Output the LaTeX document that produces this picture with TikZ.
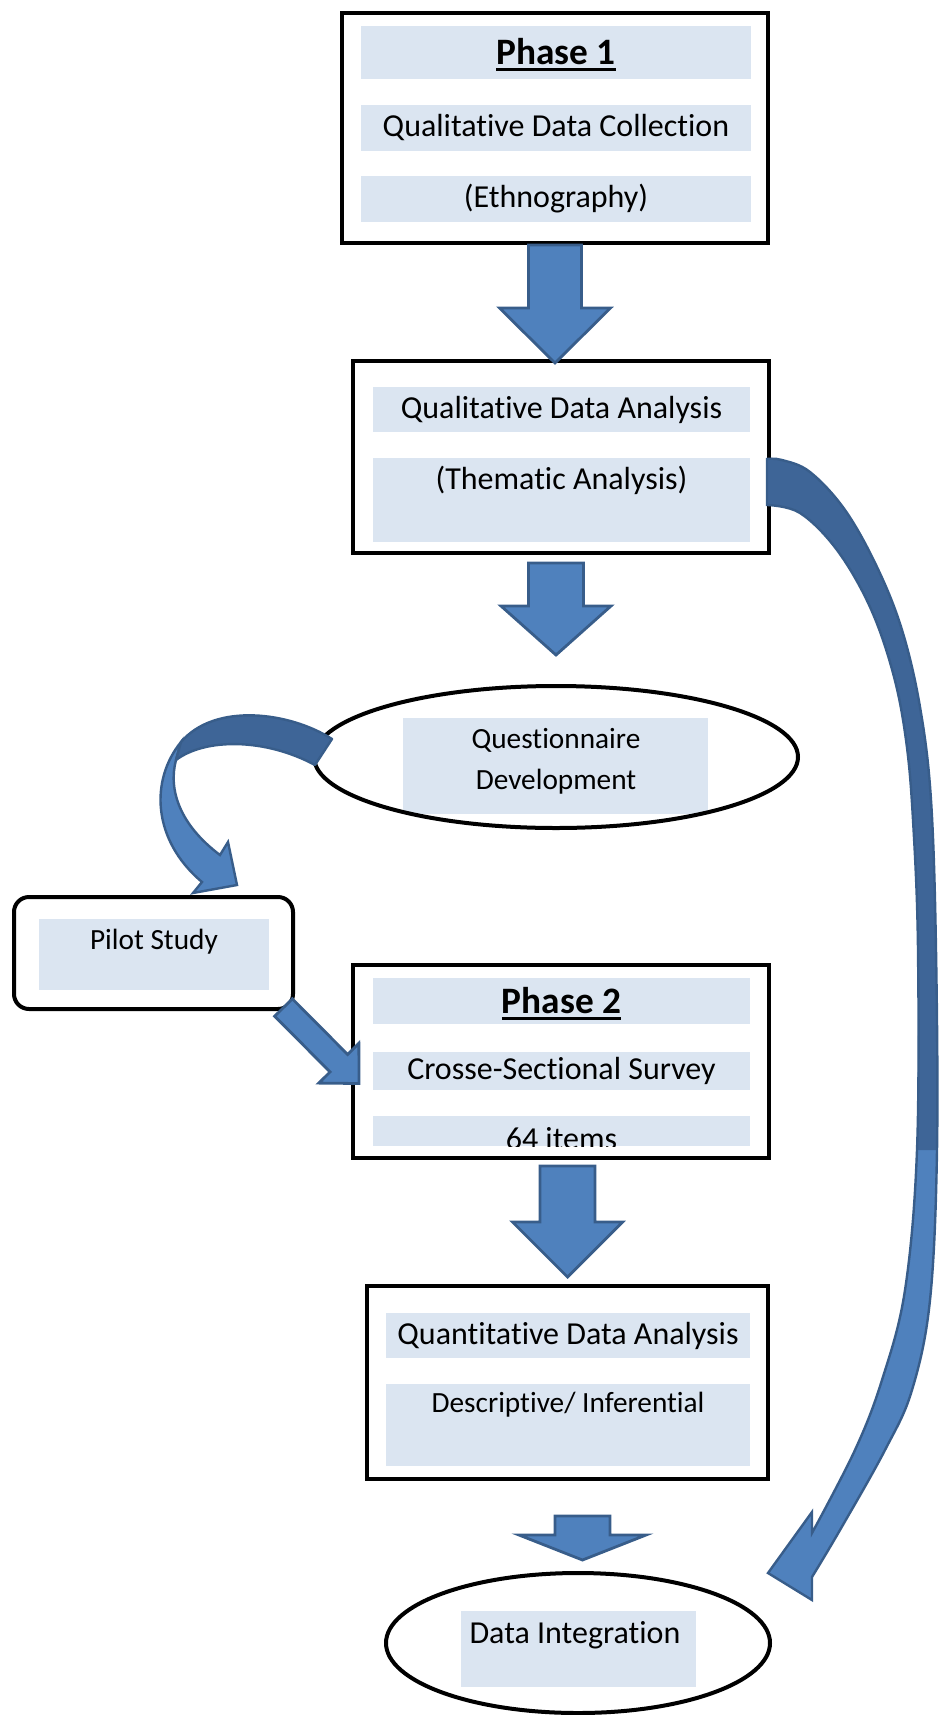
\documentclass[tikz,border=0pt]{standalone}
\usepackage{fontspec}
\setmainfont{Carlito}[Ligatures=CommonOff]
\usetikzlibrary{shapes.geometric, calc, positioning}

\definecolor{barblue}{RGB}{219,229,241}
\definecolor{arrowblue}{RGB}{79,129,189}
\definecolor{arrowdark}{RGB}{62,101,151}
\definecolor{arrowedge}{RGB}{56,93,138}

\newcommand{\fsmain}{\fontsize{32}{39}\selectfont}
\newcommand{\fsphase}{\fontsize{37.3}{45}\selectfont\bfseries}
\newcommand{\fssmall}{\fontsize{29.3}{36}\selectfont}
\newcommand{\phaseul}[1]{\setbox0=\hbox{#1}\rlap{\rule[-7pt]{\wd0}{3pt}}\box0}
\newcommand{\tI}{t\kern0pt i}% keeps t and i apart

% fat block arrow: from, to, half shaft, half head, head length
\newcommand{\fatarrow}[5]{%
  \path ($(#2)!#5!(#1)$) coordinate (hb);
  \filldraw[blockarrow]
    ($(#1)!#3!90:(#2)$) -- ($(hb)!#3!90:(#2)$) -- ($(hb)!#4!90:(#2)$) -- (#2)
    -- ($(hb)!#4!-90:(#2)$) -- ($(hb)!#3!-90:(#2)$) -- ($(#1)!#3!-90:(#2)$) -- cycle;}

\begin{document}
\begin{tikzpicture}[x=1pt, y=-1pt,
  box/.style={draw, line width=4pt, inner sep=0pt},
  oval/.style={ellipse, draw, line width=4pt, inner sep=0pt},
  bar/.style={fill=barblue, inner sep=0pt},
  txt/.style={font=\fsmain, text height=24pt, text depth=7pt},
  phasetxt/.style={font=\fsphase, text height=29pt, text depth=5pt},
  blockarrow/.style={fill=arrowblue, draw=arrowedge, line width=2.8pt, line join=miter}]
\useasboundingbox (0,0) rectangle (938,1715);

% Phase 1
\node[box, minimum width=426pt, minimum height=230pt] (phaseone) at (555,128) {};
\node[bar, phasetxt, minimum width=390pt, minimum height=53pt] (p1title) at (556,52.5) {\phaseul{Phase 1}};
\node[bar, txt, minimum width=390pt, minimum height=46pt] (p1collect) at (556,128) {Qualita\tI{}ve Data Collec\tI{}on};
\node[bar, txt, minimum width=390pt, minimum height=46pt] (p1ethno) at (556,199) {(Ethnography)};

% Qualitative analysis
\node[box, minimum width=416pt, minimum height=192pt] (qualana) at (561,457) {};
\node[bar, txt, minimum width=377pt, minimum height=45pt] (qabar) at (561.5,409.5) {Qualita\tI{}ve Data Analysis};
\node[bar, minimum width=377pt, minimum height=84pt] (thbar) at (561.5,500) {};
\node[font=\fsmain, anchor=base] (thematic) at (561.5,489) {(Thema\tI{}c Analysis)};

% Questionnaire
\node[bar, minimum width=305pt, minimum height=96pt] (qdevbar) at (555.5,766) {};
\node[oval, minimum width=484pt, minimum height=142pt] (qdev) at (556,757) {};
\node[font=\fssmall, anchor=base] (qdevone) at (556,748) {Questionnaire};
\node[font=\fssmall, anchor=base] (qdevtwo) at (556,789) {Development};

% Pilot
\node[box, rounded corners=15pt, minimum width=279pt, minimum height=112pt] (pilot) at (153.5,953) {};
\node[bar, minimum width=230pt, minimum height=71pt] (pilotbar) at (154,954.5) {};
\node[font=\fssmall, anchor=base] (pilottxt) at (154,949) {Pilot Study};

% Phase 2
\node[box, minimum width=416pt, minimum height=193pt] (phasetwo) at (561,1061.5) {};
\node[bar, phasetxt, minimum width=377pt, minimum height=46pt] (p2title) at (561.5,1001) {\phaseul{Phase 2}};
\node[bar, txt, minimum width=377pt, minimum height=38pt] (p2survey) at (561.5,1071) {Crosse-Sec\tI{}onal Survey};
\node[bar, minimum width=377pt, minimum height=30pt] (p2items) at (561.5,1131) {};
\begin{scope}
  \clip (p2items.south west) rectangle (p2items.north east);
  \node[font=\fsmain, anchor=base] (itemstxt) at (561.5,1149) {64 items};
\end{scope}

% Quantitative analysis
\node[box, minimum width=401pt, minimum height=193pt] (quant) at (567.5,1382.5) {};
\node[bar, txt, minimum width=364pt, minimum height=45pt] (qnbar) at (568,1335.5) {Quan\tI{}ta\tI{}ve Data Analysis};
\node[bar, minimum width=364pt, minimum height=82pt] (descbar) at (568,1425) {};
\node[font=\fssmall, anchor=base] (descinf) at (568,1412.5) {Descrip\tI{}ve/ Inferen\tI{}al};

% Integration
\node[bar, minimum width=235pt, minimum height=76pt] (integbar) at (578.5,1649) {};
\node[oval, minimum width=384pt, minimum height=140pt] (integ) at (578,1643) {};
\node[font=\fsmain, anchor=base west] (integtxt) at (466,1643) {Data Integra\tI{}on};

% straight arrows
\coordinate (a1s) at (phaseone.south);
\coordinate (a1e) at ($(phaseone.south |- qualana.north)+(0,4)$);
\fatarrow{a1s}{a1e}{26.5pt}{55.5pt}{55pt}
\coordinate (a2s) at ($(qualana.south -| qdev.north)+(0,8)$);
\coordinate (a2e) at ($(qdev.north)+(0,-29)$);
\fatarrow{a2s}{a2e}{27.5pt}{55pt}{49pt}
\coordinate (a3s) at ($(phasetwo.south -| quant.north)+(0,6)$);
\coordinate (a3e) at ($(quant.north)+(0,-7)$);
\fatarrow{a3s}{a3e}{27.5pt}{55pt}{55pt}
\coordinate (a4s) at ($(integ.north)+(4.5,-55)$);
\coordinate (a4e) at ($(integ.north)+(4.5,-11)$);
\fatarrow{a4s}{a4e}{27.5pt}{63.5pt}{25pt}
\coordinate (a5s) at ($(pilot.south east)+(-11.5,-3.5)$);
\coordinate (a5e) at ($(phasetwo.west)+(8,22)$);
\fatarrow{a5s}{a5e}{12.4pt}{28.2pt}{28.6pt}

% curved arrow to pilot study
\filldraw[fill=arrowblue, draw=arrowedge, line width=2.4pt, line join=miter]
  (181,742) .. controls (150,780) and (152,840) .. (202,882) -- (193,893) -- (237,885)
  -- (228,842) -- (220,855) .. controls (180,825) and (168,790) .. (176,760) -- cycle;
\filldraw[fill=arrowdark, draw=arrowedge, line width=2.4pt, line join=round]
  (332,739) .. controls (290,712) and (215,702) .. (181,742) -- (176,760)
  .. controls (205,738) and (265,738) .. (315,765) -- cycle;

% curved arrow to integration
\def\bandpath{plot[smooth, tension=0.6] coordinates {(767,459) (782,460) (810,472) (845,510)
    (877,567) (902,630) (920,707) (931,800) (936,950) (937,1150) (930,1300) (912,1390)
    (885,1450) (840,1530) (812,1577)} -- (812,1600) -- (768,1573) -- (812,1512) -- (812,1533)
  -- plot[smooth, tension=0.6] coordinates {(812,1533) (855,1450) (882,1380) (905,1290)
    (917,1150) (918,950) (913,820) (906,740) (893,673) (870,607) (837,550) (800,513) (767,505)}
  -- cycle}
\fill[arrowblue] \bandpath;
\fill[arrowdark] plot[smooth, tension=0.6] coordinates {(767,459) (782,460) (810,472) (845,510)
    (877,567) (902,630) (920,707) (931,800) (936,950) (937,1150)} -- (917,1150)
  -- plot[smooth, tension=0.6] coordinates {(917,1150) (918,950) (913,820) (906,740) (893,673)
    (870,607) (837,550) (800,513) (767,505)} -- cycle;
\draw[arrowedge, line width=2.4pt, line join=miter] \bandpath;

\end{tikzpicture}
\end{document}
